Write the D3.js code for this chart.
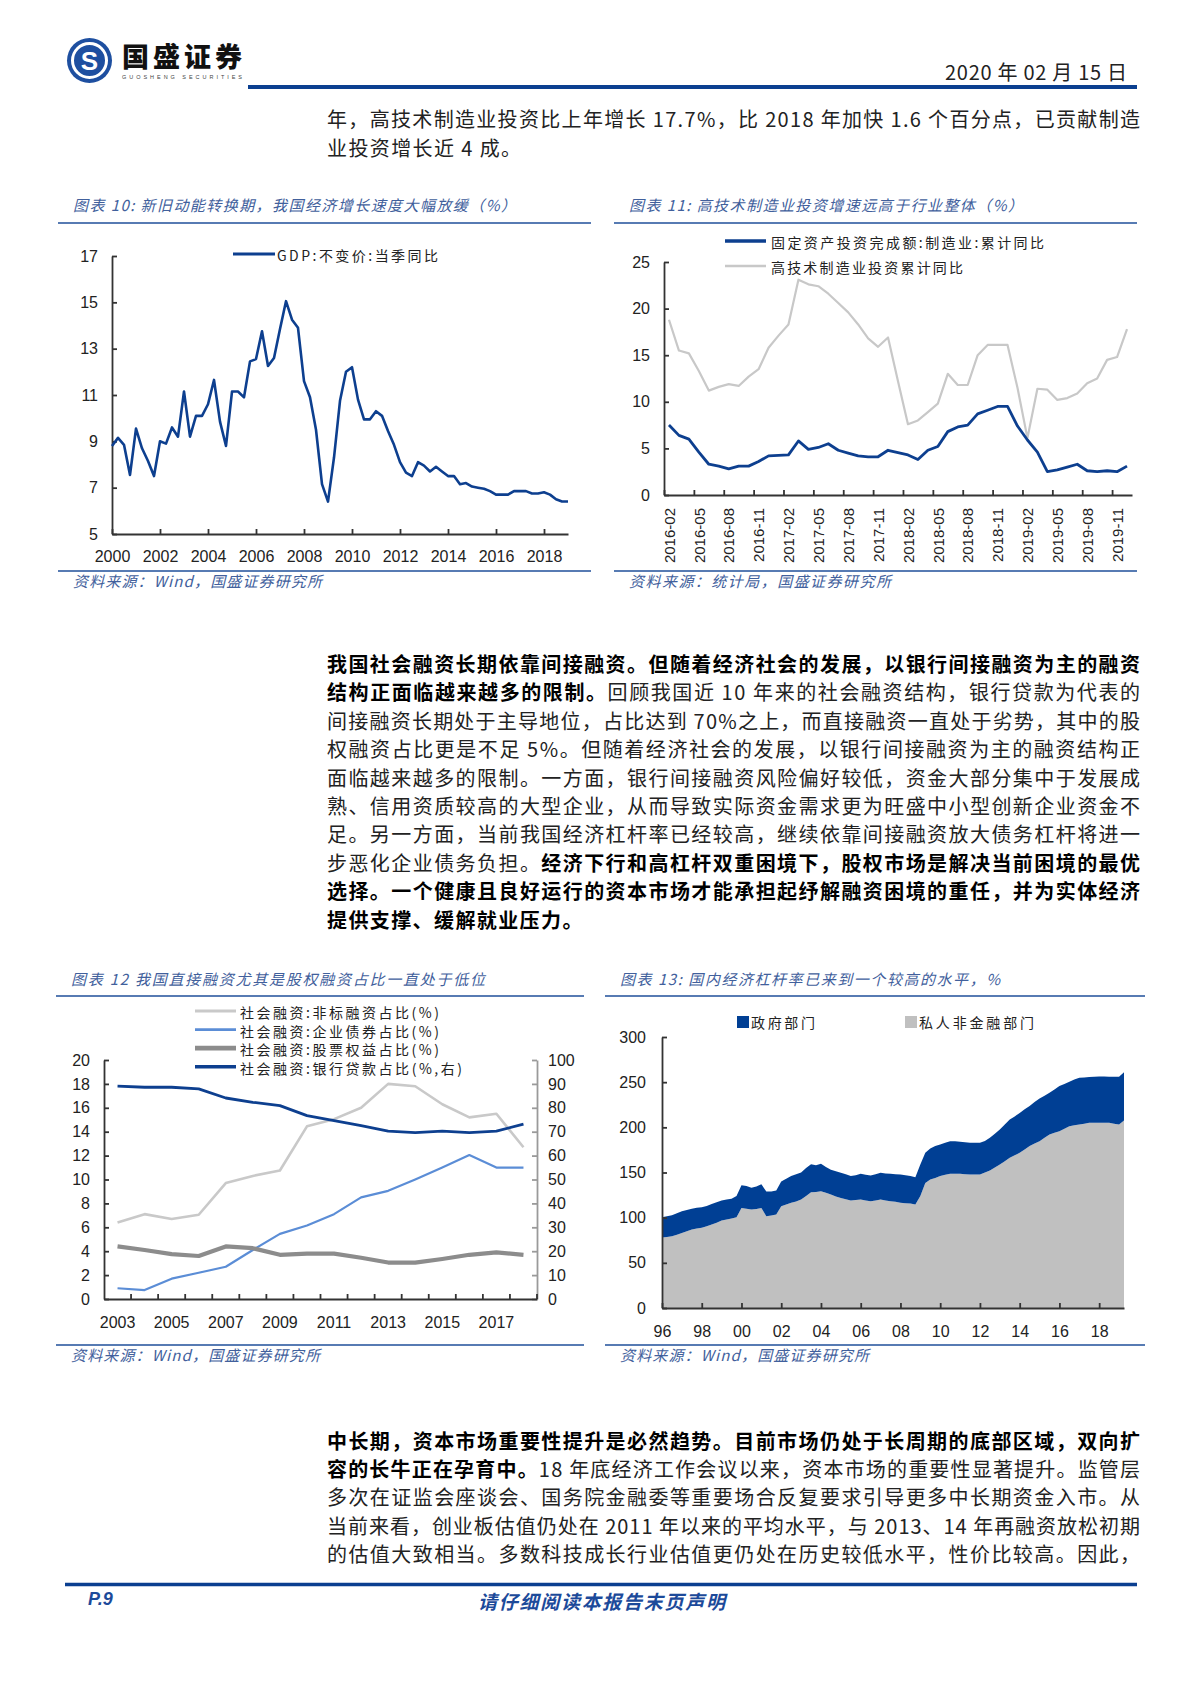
<!DOCTYPE html>
<meta charset="utf-8">
<style>
body { margin: 0; background: #fff; }
svg { display: block; }
.cjk { font-family: "Noto Sans CJK SC", sans-serif; }
.num { font-family: "Liberation Sans", Arial, sans-serif; }
</style>
<body>
<script src="https://cdn.jsdelivr.net/npm/d3@7"></script>
<script>

// ---- chart 10: GDP quarterly yoy, 2000Q1 .. 2019Q1
var gdpStartYear = 2000;
var gdpValues = [8.8, 9.15, 8.85, 7.55, 9.55, 8.7, 8.15, 7.5, 9.0, 8.9, 9.6, 9.2,
  11.15, 9.2, 10.1, 10.1, 10.6, 11.65, 9.85, 8.8, 11.15, 11.15, 10.9, 12.45,
  12.55, 13.75, 12.25, 12.6, 13.85, 15.05, 14.25, 13.9, 11.6, 10.9, 9.5, 7.15,
  6.4, 8.3, 10.75, 12.0, 12.2, 10.8, 9.95, 9.95, 10.3, 10.1, 9.45, 8.85,
  8.1, 7.65, 7.5, 8.1, 7.95, 7.7, 7.9, 7.7, 7.5, 7.5, 7.15, 7.2,
  7.05, 7.0, 6.95, 6.85, 6.7, 6.7, 6.7, 6.85, 6.85, 6.85, 6.75, 6.75,
  6.8, 6.7, 6.5, 6.4, 6.4];
var gdpYTicks = [5, 7, 9, 11, 13, 15, 17];
var gdpXTicks = [2000, 2002, 2004, 2006, 2008, 2010, 2012, 2014, 2016, 2018];

// ---- chart 11: manufacturing FAI vs high-tech manufacturing, monthly 2016-02 .. 2019-12
var faiTickLabels = ["2016-02", "2016-05", "2016-08", "2016-11", "2017-02", "2017-05", "2017-08", "2017-11",
  "2018-02", "2018-05", "2018-08", "2018-11", "2019-02", "2019-05", "2019-08", "2019-11"];
var faiMfg = [7.5, 6.4, 6.0, 4.6, 3.3, 3.1, 2.8, 3.1, 3.1, 3.6, 4.2,
  4.25, 4.3, 5.8, 4.9, 5.1, 5.5, 4.8, 4.5, 4.2, 4.1, 4.1, 4.8,
  4.55, 4.3, 3.8, 4.8, 5.2, 6.8, 7.3, 7.5, 8.7, 9.1, 9.5, 9.5,
  7.4, 5.9, 4.6, 2.5, 2.7, 3.0, 3.3, 2.6, 2.5, 2.6, 2.5, 3.1];
var faiHiTech = [18.8, 15.5, 15.2, 13.3, 11.2, 11.6, 11.9, 11.7, 12.7, 13.5, 15.8,
  17.1, 18.3, 23.1, 22.6, 22.4, 21.6, 20.6, 19.6, 18.3, 16.8, 15.9, 16.9,
  12.2, 7.6, 8.0, 8.9, 9.8, 13.0, 11.8, 11.8, 15.0, 16.1, 16.1, 16.1,
  11.5, 6.1, 11.4, 11.3, 10.2, 10.4, 10.9, 12.0, 12.5, 14.5, 14.8, 17.8];
var faiYTicks = [0, 5, 10, 15, 20, 25];

// ---- chart 12: social financing structure, 2003..2018
var sfYears = ["2003", "2004", "2005", "2006", "2007", "2008", "2009", "2010",
  "2011", "2012", "2013", "2014", "2015", "2016", "2017", "2018"];
var sfYearLabels = ["2003", "2005", "2007", "2009", "2011", "2013", "2015", "2017"];
var sfNonStd = [6.4, 7.1, 6.7, 7.05, 9.7, 10.3, 10.75, 14.45, 15.05, 16.0, 18.0, 17.8, 16.3, 15.2, 15.5, 12.7];
var sfBond = [0.9, 0.75, 1.7, 2.2, 2.7, 4.1, 5.45, 6.15, 7.1, 8.5, 9.05, 10.0, 11.0, 12.05, 11.0, 11.0];
var sfEquity = [4.4, 4.1, 3.75, 3.6, 4.4, 4.25, 3.7, 3.8, 3.8, 3.45, 3.05, 3.05, 3.35, 3.7, 3.9, 3.7];
var sfLoan = [89.1, 88.6, 88.6, 87.9, 84.1, 82.3, 80.9, 76.7, 74.6, 72.5, 70.2, 69.6, 70.2, 69.6, 70.2, 73.2];
var sfLeftTicks = [0, 2, 4, 6, 8, 10, 12, 14, 16, 18, 20];
var sfRightTicks = [0, 10, 20, 30, 40, 50, 60, 70, 80, 90, 100];
var sfNames = ["社会融资:非标融资占比(%)", "社会融资:企业债券占比(%)", "社会融资:股票权益占比(%)", "社会融资:银行贷款占比(%,右)"];

// ---- chart 13: leverage ratio, quarterly 1996Q1 .. 2019Q2
var levStartYear = 1996;
var levPrivate = [78, 78.5, 79.4, 81, 83, 85, 86.8, 88, 88.7, 90.5, 92.4, 94.5,
  96.8, 98, 99, 100.5, 110.8, 110, 109, 109.5, 110.8, 101.6, 102.5, 103.4,
  112.7, 114.5, 116.4, 118, 120, 124, 128.2, 128.5, 129.3, 127.5, 125.6, 123.5,
  121.9, 120.5, 119, 119.5, 120, 119, 118.2, 119, 120, 119, 118.2, 117.5,
  116.4, 116, 115.6, 114.5, 124, 138.5, 142.2, 144, 146, 147.5, 148.5, 148.5,
  148.5, 148, 147.8, 147.8, 147.8, 150, 152.2, 155.5, 158.8, 162.5, 166.2, 169,
  171.8, 175.5, 179.2, 182, 184.7, 188.5, 192, 194, 195.8, 198.5, 201.3, 202.3,
  203.2, 204, 205, 205, 205, 205, 205, 204, 203.2, 207.6];
var levGov = [22.5, 23, 23.3, 24, 24, 23.5, 23.2, 23, 22.8, 22.5, 22.6, 22.5,
  22.2, 22, 22, 23.5, 25.2, 25, 24, 25, 26.2, 27.4, 26.5, 26.6,
  27.3, 28.5, 29.6, 30, 30, 31, 30.8, 29.5, 30.3, 28.5, 27.4, 28,
  27.7, 27.5, 27, 27.5, 28.5, 28.5, 28.4, 29, 29.6, 30, 30.3, 30.5,
  31.4, 31, 30.4, 30.3, 34.8, 33.3, 34.4, 35.2, 35, 35.5, 36.2, 36,
  35.5, 35.5, 35, 35, 35, 35, 36.2, 37.5, 38.8, 40.5, 42.5, 43,
  44.2, 44.5, 44.3, 46, 47.3, 46.5, 46.3, 48, 49.9, 49.5, 49.2, 50.7,
  51.8, 51.3, 50.6, 51, 51.4, 51.2, 51, 52, 52.8, 53.4];
var levYTicks = [0, 50, 100, 150, 200, 250, 300];
var levXTicks = [1996, 1998, 2000, 2002, 2004, 2006, 2008, 2010, 2012, 2014, 2016, 2018];
var levXLabels = ["96", "98", "00", "02", "04", "06", "08", "10", "12", "14", "16", "18"];

var navy = "#0d3f8f", ruleBlue = "#1f4f9a", capBlue = "#41609c", axisCol = "#333";

var svg = d3.select("body").append("svg")
    .attr("width", 1200)
    .attr("height", 1698);
svg.append("rect").attr("width", 1200).attr("height", 1698).attr("fill", "#fff");

// ---------- page header ----------
var logo = svg.append("g").attr("transform", "translate(89.5,60.5)");
logo.append("circle").attr("r", 22.5).attr("fill", "#1e4fa0");
logo.append("circle").attr("r", 17).attr("fill", "none").attr("stroke", "#fff").attr("stroke-width", 3);
logo.append("text").attr("class", "num").attr("text-anchor", "middle").attr("dy", "0.36em")
    .attr("font-size", 26).attr("font-weight", 700).attr("fill", "#fff").text("S");
svg.append("text").attr("class", "cjk").attr("x", 122).attr("y", 55).attr("dominant-baseline", "central")
    .attr("font-size", 27).attr("font-weight", 900).attr("fill", "#111")
    .attr("textLength", 120).attr("lengthAdjust", "spacing").text("国盛证券");
svg.append("text").attr("class", "num").attr("x", 122).attr("y", 77).attr("dominant-baseline", "central")
    .attr("font-size", 5.5).attr("fill", "#444")
    .attr("textLength", 120).attr("lengthAdjust", "spacing").text("GUOSHENG SECURITIES");
svg.append("text").attr("class", "cjk").attr("x", 1127).attr("y", 71).attr("dominant-baseline", "central")
    .attr("text-anchor", "end").attr("font-size", 20).attr("fill", "#222")
    .attr("textLength", 182).attr("lengthAdjust", "spacing").text("2020 年 02 月 15 日");
svg.append("line").attr("x1", 248).attr("x2", 1137).attr("y1", 87).attr("y2", 87)
    .attr("stroke", "#0b3f90").attr("stroke-width", 4);

// ---------- body paragraphs ----------
var textLeft = 327, textWidth = 813;
function para(lines, y0, dy) {
  lines.forEach(function(parts, i) {
    var full = parts.full !== false;
    var t = svg.append("text").attr("class", "cjk")
        .attr("x", textLeft).attr("y", y0 + i * dy)
        .attr("dominant-baseline", "central").attr("font-size", 20);
    if (full) t.attr("textLength", textWidth).attr("lengthAdjust", "spacing");
    else t.attr("letter-spacing", 1.4);
    parts.forEach(function(p) {
      t.append("tspan").attr("font-weight", p[0] ? 700 : 400)
          .attr("fill", p[0] ? "#000" : "#222").text(p[1]);
    });
  });
}
function last(a) { a.full = false; return a; }

para([
  [[0, "年，高技术制造业投资比上年增长 17.7%，比 2018 年加快 1.6 个百分点，已贡献制造"]],
  last([[0, "业投资增长近 4 成。"]])
], 118, 29);

para([
  [[1, "我国社会融资长期依靠间接融资。但随着经济社会的发展，以银行间接融资为主的融资"]],
  [[1, "结构正面临越来越多的限制。"], [0, "回顾我国近 10 年来的社会融资结构，银行贷款为代表的"]],
  [[0, "间接融资长期处于主导地位，占比达到 70%之上，而直接融资一直处于劣势，其中的股"]],
  [[0, "权融资占比更是不足 5%。但随着经济社会的发展，以银行间接融资为主的融资结构正"]],
  [[0, "面临越来越多的限制。一方面，银行间接融资风险偏好较低，资金大部分集中于发展成"]],
  [[0, "熟、信用资质较高的大型企业，从而导致实际资金需求更为旺盛中小型创新企业资金不"]],
  [[0, "足。另一方面，当前我国经济杠杆率已经较高，继续依靠间接融资放大债务杠杆将进一"]],
  [[0, "步恶化企业债务负担。"], [1, "经济下行和高杠杆双重困境下，股权市场是解决当前困境的最优"]],
  [[1, "选择。一个健康且良好运行的资本市场才能承担起纾解融资困境的重任，并为实体经济"]],
  last([[1, "提供支撑、缓解就业压力。"]])
], 663, 28.4);

para([
  [[1, "中长期，资本市场重要性提升是必然趋势。目前市场仍处于长周期的底部区域，双向扩"]],
  [[1, "容的长牛正在孕育中。"], [0, "18 年底经济工作会议以来，资本市场的重要性显著提升。监管层"]],
  [[0, "多次在证监会座谈会、国务院金融委等重要场合反复要求引导更多中长期资金入市。从"]],
  [[0, "当前来看，创业板估值仍处在 2011 年以来的平均水平，与 2013、14 年再融资放松初期"]],
  [[0, "的估值大致相当。多数科技成长行业估值更仍处在历史较低水平，性价比较高。因此，"]]
], 1440, 28.2);

// ---------- footer ----------
svg.append("line").attr("x1", 65).attr("x2", 1137).attr("y1", 1584.5).attr("y2", 1584.5)
    .attr("stroke", "#0b3f90").attr("stroke-width", 3.5);
svg.append("text").attr("class", "num").attr("x", 88).attr("y", 1599).attr("dominant-baseline", "central")
    .attr("font-size", 18).attr("font-weight", 700).attr("font-style", "italic").attr("fill", "#1c4a9a").text("P.9");
svg.append("text").attr("class", "cjk").attr("x", 478).attr("y", 1600).attr("dominant-baseline", "central")
    .attr("font-size", 19).attr("font-weight", 700).attr("font-style", "italic").attr("fill", "#1c4a9a")
    .attr("textLength", 247).attr("lengthAdjust", "spacing").text("请仔细阅读本报告末页声明");

// ---------- chart frame helpers ----------
function frame(x1, x2, yTitle, yTopRule, yBotRule, title, titleW, source, sourceW) {
  svg.append("text").attr("class", "cjk").attr("x", x1 + 15).attr("y", yTitle).attr("dominant-baseline", "central")
      .attr("font-size", 15).attr("font-style", "italic").attr("fill", capBlue)
      .attr("textLength", titleW).attr("lengthAdjust", "spacing").text(title);
  svg.append("line").attr("x1", x1).attr("x2", x2).attr("y1", yTopRule).attr("y2", yTopRule)
      .attr("stroke", ruleBlue).attr("stroke-width", 1.6);
  svg.append("line").attr("x1", x1).attr("x2", x2).attr("y1", yBotRule).attr("y2", yBotRule)
      .attr("stroke", ruleBlue).attr("stroke-width", 1.6);
  svg.append("text").attr("class", "cjk").attr("x", x1 + 15).attr("y", yBotRule + 9).attr("dominant-baseline", "central")
      .attr("font-size", 15).attr("font-style", "italic").attr("fill", capBlue)
      .attr("textLength", sourceW).attr("lengthAdjust", "spacing").text(source);
}
function styleAxis(g, col) {
  g.attr("font-family", "Liberation Sans, Arial, sans-serif").attr("font-size", 16);
  g.select(".domain").attr("stroke", col || axisCol).attr("stroke-width", 1.8);
  g.selectAll(".tick line").attr("stroke", col || axisCol).attr("stroke-width", 1.8);
  g.selectAll(".tick text").attr("fill", "#222");
}
function legendText(x, y, w, txt) {
  svg.append("text").attr("class", "cjk").attr("x", x).attr("y", y).attr("dominant-baseline", "central")
      .attr("font-size", 14).attr("fill", "#222")
      .attr("textLength", w).attr("lengthAdjust", "spacing").text(txt);
}

// ---------- chart 10 ----------
frame(58, 591, 204, 223, 571, "图表 10:  新旧动能转换期，我国经济增长速度大幅放缓（%）", 443,
      "资料来源：Wind，国盛证券研究所", 249);

var x10 = d3.scaleLinear().domain([2000, 2019]).range([112, 568]),
    y10 = d3.scaleLinear().domain([5, 17]).range([534, 256]);

svg.append("g").attr("transform", "translate(112,0)")
    .call(d3.axisLeft(y10).tickValues(gdpYTicks).tickSizeInner(-5).tickSizeOuter(0).tickPadding(14))
    .call(styleAxis);
var gx10 = svg.append("g").attr("transform", "translate(0,534)")
    .call(d3.axisBottom(x10).tickValues(gdpXTicks).tickFormat(d3.format("d")).tickSizeInner(-5).tickSizeOuter(0))
    .call(styleAxis);
gx10.selectAll(".tick text").attr("y", 22).attr("dy", "0.35em");

svg.append("path").datum(gdpValues)
    .attr("fill", "none").attr("stroke", navy).attr("stroke-width", 2.6).attr("stroke-linejoin", "round")
    .attr("d", d3.line().x(function(d, i) { return x10(gdpStartYear + i / 4); }).y(function(d) { return y10(d); }));

svg.append("line").attr("x1", 233).attr("x2", 275).attr("y1", 254).attr("y2", 254)
    .attr("stroke", navy).attr("stroke-width", 3);
legendText(277, 255, 161, "GDP:不变价:当季同比");

// ---------- chart 11 ----------
frame(614, 1137, 204, 223, 571, "图表 11:  高技术制造业投资增速远高于行业整体（%）", 394,
      "资料来源：统计局，国盛证券研究所", 262);

var faiMonths = d3.timeMonths(new Date(2016, 1, 1), new Date(2020, 0, 1)).map(d3.timeFormat("%Y-%m"));
var x11 = d3.scalePoint().domain(faiMonths).range([664, 1132]).padding(0.5),
    y11 = d3.scaleLinear().domain([0, 25]).range([495, 262]);

svg.append("g").attr("transform", "translate(664,0)")
    .call(d3.axisLeft(y11).tickValues(faiYTicks).tickSizeInner(-5).tickSizeOuter(0).tickPadding(14))
    .call(styleAxis);
var gx11 = svg.append("g").attr("transform", "translate(0,495)")
    .call(d3.axisBottom(x11).tickValues(faiTickLabels).tickSize(0))
    .call(styleAxis)
    .attr("font-size", 15);
gx11.selectAll(".tick text")
    .attr("transform", "rotate(-90)").attr("x", -13).attr("y", 0).attr("dy", "0.35em")
    .attr("text-anchor", "end");
gx11.selectAll(".tick").each(function(d) {
  d3.select(this).append("line").attr("x1", -x11.step() / 2).attr("x2", -x11.step() / 2)
      .attr("y1", 0).attr("y2", -5).attr("stroke", axisCol).attr("stroke-width", 1.8);
});

var line11 = d3.line().x(function(d, i) { return x11(faiMonths[i]); }).y(function(d) { return y11(d); });
svg.append("path").datum(faiHiTech).attr("fill", "none").attr("stroke", "#c8c8c8")
    .attr("stroke-width", 2.2).attr("stroke-linejoin", "round").attr("d", line11);
svg.append("path").datum(faiMfg).attr("fill", "none").attr("stroke", navy)
    .attr("stroke-width", 2.8).attr("stroke-linejoin", "round").attr("d", line11);

svg.append("line").attr("x1", 725).attr("x2", 766).attr("y1", 241).attr("y2", 241)
    .attr("stroke", navy).attr("stroke-width", 3.5);
legendText(771, 242, 273, "固定资产投资完成额:制造业:累计同比");
svg.append("line").attr("x1", 725).attr("x2", 766).attr("y1", 266).attr("y2", 266)
    .attr("stroke", "#c8c8c8").attr("stroke-width", 2.5);
legendText(771, 267, 192, "高技术制造业投资累计同比");

// ---------- chart 12 ----------
frame(56, 584, 978, 996, 1345, "图表 12  我国直接融资尤其是股权融资占比一直处于低位", 414,
      "资料来源：Wind，国盛证券研究所", 249);

var x12 = d3.scaleBand().domain(sfYears).range([104, 537]),
    yL12 = d3.scaleLinear().domain([0, 20]).range([1299, 1060]),
    yR12 = d3.scaleLinear().domain([0, 100]).range([1299, 1060]);

svg.append("g").attr("transform", "translate(104,0)")
    .call(d3.axisLeft(yL12).tickValues(sfLeftTicks).tickSizeInner(-5).tickSizeOuter(0).tickPadding(14))
    .call(styleAxis);
svg.append("g").attr("transform", "translate(537,0)")
    .call(d3.axisRight(yR12).tickValues(sfRightTicks).tickSizeInner(-5).tickSizeOuter(0).tickPadding(11))
    .call(function(g) { styleAxis(g, "#9a9a9a"); });
var gx12 = svg.append("g").attr("transform", "translate(0,1299)")
    .call(d3.axisBottom(x12).tickValues(sfYearLabels).tickSize(0))
    .call(styleAxis);
gx12.selectAll(".tick text").attr("y", 23).attr("dy", "0.35em");
gx12.selectAll(".bandtick").data(sfYears).enter().append("line")
    .attr("x1", function(d) { return x12(d) + x12.bandwidth(); })
    .attr("x2", function(d) { return x12(d) + x12.bandwidth(); })
    .attr("y1", 0).attr("y2", -5).attr("stroke", axisCol).attr("stroke-width", 1.8);

function line12(y) {
  return d3.line().x(function(d, i) { return x12(sfYears[i]) + x12.bandwidth() / 2; }).y(function(d) { return y(d); });
}
var sfSeries = [
  {v: sfNonStd, y: yL12, c: "#c9c9c9", w: 2.6},
  {v: sfBond, y: yL12, c: "#5b8dd6", w: 2.2},
  {v: sfEquity, y: yL12, c: "#8c8c8c", w: 4.2},
  {v: sfLoan, y: yR12, c: navy, w: 2.8}
];
sfSeries.forEach(function(s) {
  svg.append("path").datum(s.v).attr("fill", "none").attr("stroke", s.c)
      .attr("stroke-width", s.w).attr("stroke-linejoin", "round").attr("d", line12(s.y));
});
var sfLegendW = [199, 199, 199, 222];
sfSeries.forEach(function(s, i) {
  var ly = 1011 + i * 18.6;
  svg.append("line").attr("x1", 195).attr("x2", 236).attr("y1", ly).attr("y2", ly)
      .attr("stroke", s.c).attr("stroke-width", s.w + 0.6);
  legendText(240, ly + 1, sfLegendW[i], sfNames[i]);
});

// ---------- chart 13 ----------
frame(605, 1145, 978, 996, 1345, "图表 13:  国内经济杠杆率已来到一个较高的水平，%", 380,
      "资料来源：Wind，国盛证券研究所", 249);

var x13 = d3.scaleLinear().domain([1996, 2019.25]).range([662, 1124]),
    y13 = d3.scaleLinear().domain([0, 300]).range([1308, 1037]);

var levRows = levPrivate.map(function(p, i) { return {t: levStartYear + i / 4, priv: p, gov: levGov[i]}; });
var stack13 = d3.stack().keys(["priv", "gov"])(levRows);
var area13 = d3.area()
    .x(function(d) { return x13(d.data.t); })
    .y0(function(d) { return y13(d[0]); })
    .y1(function(d) { return y13(d[1]); });
var levColors = ["#c0c0c0", "#003f94"];
svg.selectAll(".lev").data(stack13).enter().append("path")
    .attr("fill", function(d, i) { return levColors[i]; })
    .attr("d", area13);

svg.append("g").attr("transform", "translate(662,0)")
    .call(d3.axisLeft(y13).tickValues(levYTicks).tickSizeInner(-5).tickSizeOuter(0).tickPadding(16))
    .call(styleAxis);
var gx13 = svg.append("g").attr("transform", "translate(0,1308)")
    .call(d3.axisBottom(x13).tickValues(levXTicks).tickFormat(function(d, i) { return levXLabels[i]; })
        .tickSizeInner(-5).tickSizeOuter(0))
    .call(styleAxis);
gx13.selectAll(".tick text").attr("y", 23).attr("dy", "0.35em");

svg.append("rect").attr("x", 737).attr("y", 1016).attr("width", 12).attr("height", 12).attr("fill", "#003f94");
legendText(751, 1022, 64, "政府部门");
svg.append("rect").attr("x", 905).attr("y", 1016).attr("width", 12).attr("height", 12).attr("fill", "#c0c0c0");
legendText(919, 1022, 115, "私人非金融部门");

</script>
